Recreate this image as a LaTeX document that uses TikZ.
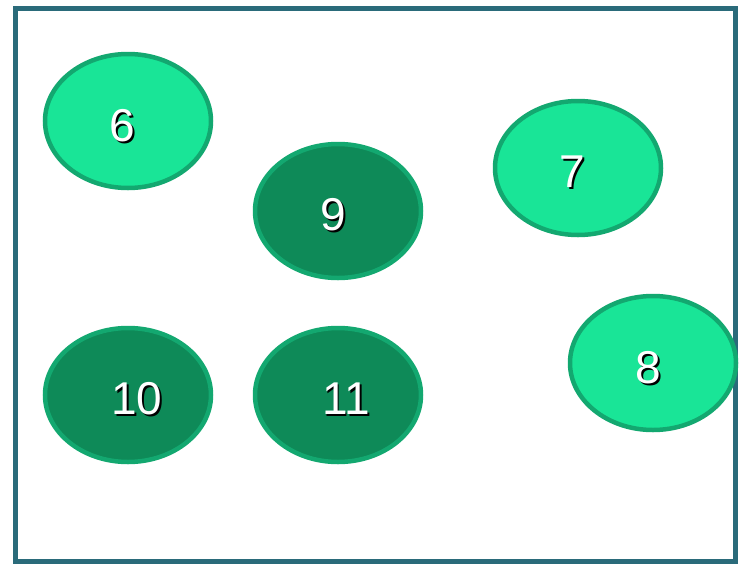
\documentclass[tikz,border=0pt]{standalone}
\usepackage{fontspec}
\setmainfont{Liberation Sans}
\usetikzlibrary{shapes.geometric}

\definecolor{frameteal}{RGB}{42,107,122}
\definecolor{lightfill}{RGB}{25,229,151}
\definecolor{darkfill}{RGB}{14,138,88}
\definecolor{ringgreen}{RGB}{19,168,112}

% white digits with a small black drop shadow
\newcommand{\shadownum}[1]{\makebox[0pt][l]{\hspace{1.8pt}\raisebox{-1.8pt}{\color{black}#1}}#1}

\tikzset{
  blob/.style={ellipse,draw=ringgreen,line width=4.5pt,minimum width=166pt,minimum height=134pt,inner sep=0pt},
  light/.style={blob,fill=lightfill},
  dark/.style={blob,fill=darkfill},
  num/.style={font=\fontsize{46}{46}\selectfont,text=white,inner sep=0pt}
}

\begin{document}
\begin{tikzpicture}[x=1pt,y=-1pt]

\useasboundingbox (0,0) rectangle (742,563);

% Frame
\draw[frameteal,line width=5pt] (15.5,8.5) rectangle (735.5,561.5);

% -------- Ellipses --------
\node[light] (e6)  at (128,121) {};
\node[dark]  (e9)  at (338,211) {};
\node[light] (e7)  at (578,168) {};
\node[light] (e8)  at (653,363) {};
\node[dark]  (e10) at (128,395) {};
\node[dark]  (e11) at (338,395) {};

% -------- Numbers --------
\node[num] (t6)  at (122,127) {\shadownum{6}};
\node[num] (t9)  at (333,216) {\shadownum{9}};
\node[num] (t7)  at (572,173) {\shadownum{7}};
\node[num] (t8)  at (648,369) {\shadownum{8}};
\node[num] (t10) at (137,400) {\shadownum{10}};
\node[num] (t11) at (346,400) {\shadownum{11}};

\end{tikzpicture}
\end{document}
